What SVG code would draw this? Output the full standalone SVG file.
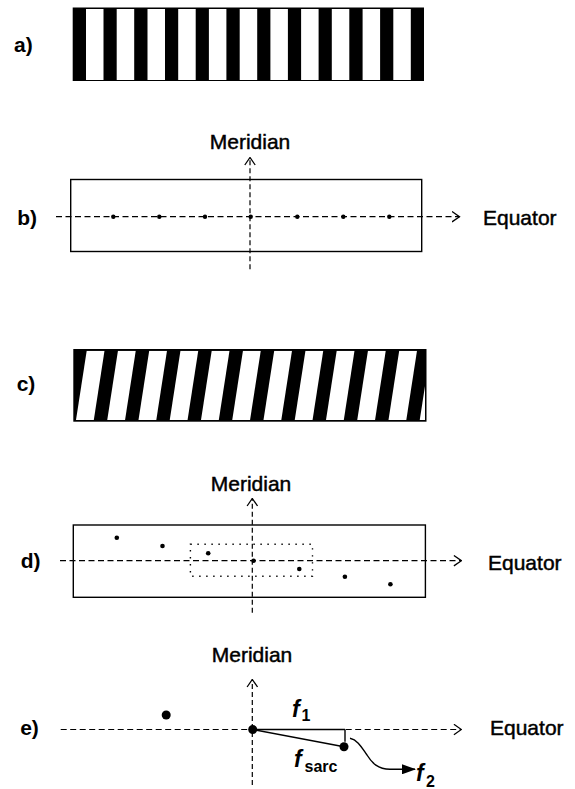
<svg xmlns="http://www.w3.org/2000/svg" width="575" height="789" viewBox="0 0 575 789">
<style>
.lbl{font-family:"Liberation Sans",Arial,sans-serif;font-weight:bold;font-size:21px;fill:#000}
.ax{font-family:"Liberation Sans",Arial,sans-serif;font-size:21px;fill:#000;stroke:#000;stroke-width:0.45}
.fi{font-family:"Liberation Sans",Arial,sans-serif;font-weight:bold;font-style:italic;font-size:23px;fill:#000}
.sub{font-family:"Liberation Sans",Arial,sans-serif;font-weight:bold;font-size:16px;fill:#000}
.box{fill:#fff;stroke:#000;stroke-width:1.4}
.eq{fill:none;stroke:#000;stroke-width:1.2;stroke-dasharray:6 3.5;marker-end:url(#open)}
.mer{fill:none;stroke:#000;stroke-width:1.2;stroke-dasharray:5 3}
.solid{fill:none;stroke:#000;stroke-width:1.4}
.dot{fill:#000}
</style>
<defs>
<marker id="open" markerUnits="userSpaceOnUse" viewBox="0 0 9 12" refX="8" refY="6" markerWidth="9" markerHeight="12" orient="auto">
<path d="M0.5,0.8 L8,6 L0.5,11.2" fill="none" stroke="#000" stroke-width="1.3" stroke-dasharray="none"/>
</marker>
<marker id="solidhead" markerUnits="userSpaceOnUse" viewBox="0 0 14 10" refX="13" refY="5" markerWidth="14" markerHeight="10" orient="auto">
<path d="M0,0 L14,5 L0,10 Z" fill="#000"/>
</marker>
<clipPath id="cclip"><rect x="74.3" y="350.7" width="350.7" height="69.3"/></clipPath>
</defs>
<rect width="575" height="789" fill="#fff"/>

<g id="panel-a">
<text class="lbl" x="14" y="52">a)</text>
<rect x="72.7" y="7.5" width="351.3" height="73.5" fill="#000"/>
<g fill="#fff">
<rect x="86" y="9" width="17.5" height="71"/>
<rect x="116.7" y="9" width="17.5" height="71"/>
<rect x="147.5" y="9" width="17.5" height="71"/>
<rect x="178.2" y="9" width="17.5" height="71"/>
<rect x="208.9" y="9" width="17.5" height="71"/>
<rect x="239.7" y="9" width="17.5" height="71"/>
<rect x="270.4" y="9" width="17.5" height="71"/>
<rect x="301.1" y="9" width="17.5" height="71"/>
<rect x="331.8" y="9" width="17.5" height="71"/>
<rect x="362.6" y="9" width="17.5" height="71"/>
<rect x="393.3" y="9" width="17.5" height="71"/>
</g>
</g>

<g id="panel-b">
<text class="lbl" x="17.3" y="225">b)</text>
<rect class="box" x="70.7" y="179.5" width="351" height="72"/>
<text class="ax" x="250" y="149" text-anchor="middle">Meridian</text>
<text class="ax" x="483" y="225">Equator</text>
<g id="axes-b">
<line class="eq" x1="56" y1="216.7" x2="459.5" y2="216.7"/>
<line class="mer" x1="250" y1="269.3" x2="250" y2="157.5" style="marker-end:url(#open)"/>
</g>
<g class="dot">
<circle cx="113.3" cy="216.7" r="2.2"/>
<circle cx="159.3" cy="216.7" r="2.2"/>
<circle cx="205" cy="216.7" r="2.2"/>
<circle cx="250.7" cy="216.7" r="2.2"/>
<circle cx="297.3" cy="216.7" r="2.2"/>
<circle cx="343.3" cy="216.7" r="2.2"/>
<circle cx="389.3" cy="216.7" r="2.2"/>
</g>
</g>

<g id="panel-c">
<text class="lbl" x="16.7" y="390.5">c)</text>
<rect x="73.3" y="349" width="353.2" height="72.7" fill="#000"/>
<g fill="#fff" clip-path="url(#cclip)">
<polygon points="86.7,350.7 104.5,350.7 93.8,420 76,420"/>
<polygon points="117.95,350.7 135.75,350.7 125.05,420 107.25,420"/>
<polygon points="149.2,350.7 167,350.7 156.3,420 138.5,420"/>
<polygon points="180.45,350.7 198.25,350.7 187.55,420 169.75,420"/>
<polygon points="211.7,350.7 229.5,350.7 218.8,420 201,420"/>
<polygon points="242.95,350.7 260.75,350.7 250.05,420 232.25,420"/>
<polygon points="274.2,350.7 292,350.7 281.3,420 263.5,420"/>
<polygon points="305.45,350.7 323.25,350.7 312.55,420 294.75,420"/>
<polygon points="336.7,350.7 354.5,350.7 343.8,420 326,420"/>
<polygon points="367.95,350.7 385.75,350.7 375.05,420 357.25,420"/>
<polygon points="399.2,350.7 417,350.7 406.3,420 388.5,420"/>
<polygon points="430.45,350.7 448.25,350.7 437.55,420 419.75,420"/>
</g>
</g>

<g id="panel-d">
<text class="lbl" x="20.7" y="568.3">d)</text>
<rect class="box" x="73.3" y="525" width="352.1" height="72.3"/>
<text class="ax" x="251" y="490.7" text-anchor="middle">Meridian</text>
<text class="ax" x="488" y="570">Equator</text>
<rect x="190.4" y="544.3" width="122.1" height="32" fill="none" stroke="#000" stroke-width="1.4" stroke-dasharray="1.4 5.6"/>
<g id="axes-d">
<line class="eq" x1="60" y1="560.7" x2="461.4" y2="560.7"/>
<line class="mer" x1="252.3" y1="612.7" x2="252.3" y2="498.5" style="marker-end:url(#open)"/>
</g>
<g class="dot">
<circle cx="116.8" cy="537.7" r="2.3"/>
<circle cx="162.5" cy="546" r="2.3"/>
<circle cx="208.2" cy="553.3" r="2.3"/>
<circle cx="253.6" cy="560.7" r="2.3"/>
<circle cx="299.3" cy="569" r="2.3"/>
<circle cx="344.9" cy="576.7" r="2.3"/>
<circle cx="390.4" cy="584.3" r="2.3"/>
</g>
</g>

<g id="panel-e">
<text class="lbl" x="20.2" y="735">e)</text>
<text class="ax" x="252" y="661.7" text-anchor="middle">Meridian</text>
<text class="ax" x="490" y="735">Equator</text>
<g id="axes-e">
<line class="eq" x1="60.7" y1="729.5" x2="461.4" y2="729.5"/>
<line class="mer" x1="252.3" y1="785" x2="252.3" y2="679.5" style="marker-end:url(#open)"/>
<line class="solid" x1="252.7" y1="729.5" x2="345" y2="729.5"/>
<line class="solid" x1="345" y1="729.5" x2="345" y2="741.7"/>
<line class="solid" x1="252.7" y1="729.5" x2="344" y2="746.7"/>
<path class="solid" d="M350,738.3 C358,740 362,748 367,755 C372,763 378,769.3 390,769.3 L415,769.3" style="marker-end:url(#solidhead)"/>
</g>
<g class="dot">
<circle cx="166.2" cy="715" r="4.5"/>
<circle cx="252.7" cy="729.5" r="4.5"/>
<circle cx="344" cy="746.7" r="4.5"/>
</g>
<text class="fi" x="292" y="717">f</text><text class="sub" x="301.5" y="720.5">1</text>
<text class="fi" x="294" y="767">f</text><text class="sub" x="304.5" y="771.5">sarc</text>
<text class="fi" x="416" y="781">f</text><text class="sub" x="426" y="786.5">2</text>
</g>
</svg>
